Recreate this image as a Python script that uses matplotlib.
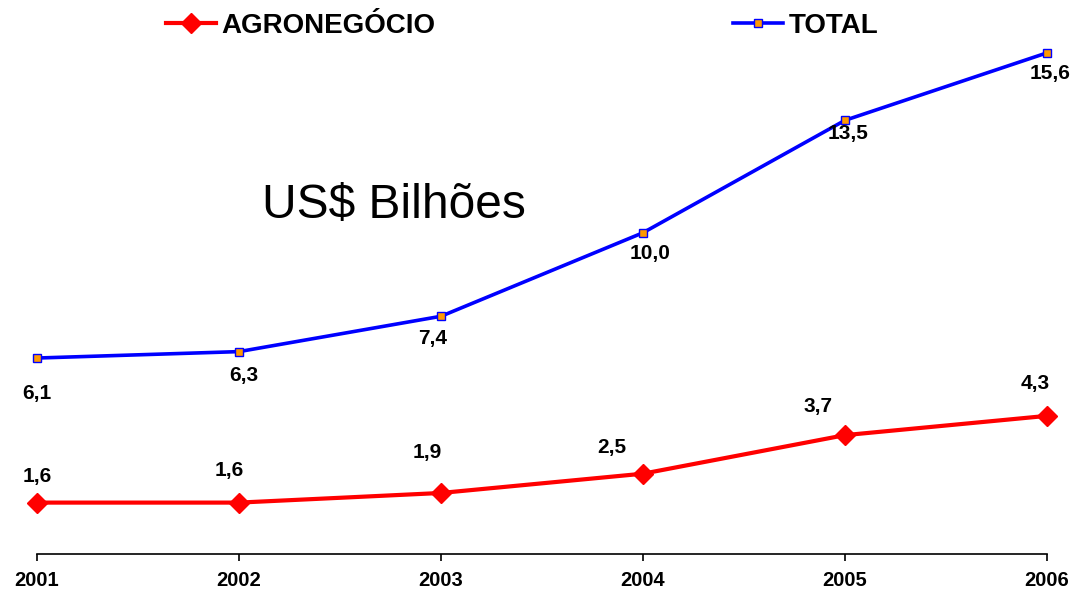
import matplotlib.pyplot as plt

anos = [2001, 2002, 2003, 2004, 2005, 2006]
agronegocio = [1.6, 1.6, 1.9, 2.5, 3.7, 4.3]
total = [6.1, 6.3, 7.4, 10.0, 13.5, 15.6]

# label offsets (pixels) relative to each point
agro_off = [(0, 26), (-10, 32), (-14, 40), (-31, 26), (-27, 29), (-12, 32)]
total_off = [(0, -35), (5, -24), (-8, -22), (7, -21), (3, -13), (3, -21)]

plt.rcParams["font.family"] = ["Liberation Sans", "DejaVu Sans"]

W, H = 1077, 589
fig = plt.figure(figsize=(W / 100, H / 100), dpi=100)
ax = fig.add_axes([37 / W, 1 - 554 / H, (1047 - 37) / W, (554 - 40) / H])

ax.plot(anos, agronegocio, color='#ff0000', lw=3, marker='D', markersize=10.5,
        markerfacecolor='#ff0000', markeredgecolor='#ff0000', label='AGRONEGÓCIO',
        clip_on=False, zorder=3)
ax.plot(anos, total, color='#0000ff', lw=2.6, marker='s', markersize=5.5,
        markerfacecolor='#ff9900', markeredgecolor='#0000ff', markeredgewidth=1,
        label='TOTAL', clip_on=False, zorder=3)

for x, y, off in zip(anos, agronegocio, agro_off):
    ax.annotate(f'{y:.1f}'.replace('.', ','), xy=(x, y), xytext=off,
                textcoords='offset pixels', ha='center', va='center',
                fontsize=15, fontweight='bold')
for x, y, off in zip(anos, total, total_off):
    ax.annotate(f'{y:.1f}'.replace('.', ','), xy=(x, y), xytext=off,
                textcoords='offset pixels', ha='center', va='center',
                fontsize=15, fontweight='bold')

ax.set_xlim(2001, 2006)
ax.set_ylim(0, 16)
ax.set_xticks(anos)
ax.set_xticklabels([str(a) for a in anos], fontsize=14.5, fontweight='bold')
ax.set_yticks([])
for s in ['left', 'right', 'top']:
    ax.spines[s].set_visible(False)
ax.spines['bottom'].set_linewidth(1.2)
ax.tick_params(axis='x', direction='out', length=5, width=1.2, pad=7)

fig.text(394 / W, 1 - 205 / H, 'US$ Bilhões', fontsize=34.5, ha='center', va='center')

fig.legend(loc='center left', bbox_to_anchor=(166 / W, 1 - 26 / H), ncol=2,
           frameon=False, borderpad=0, borderaxespad=0, handlelength=1.8,
           handletextpad=0.2, columnspacing=10.7,
           prop={'size': 20, 'weight': 'bold'})

fig.savefig('out.png', dpi=100)
